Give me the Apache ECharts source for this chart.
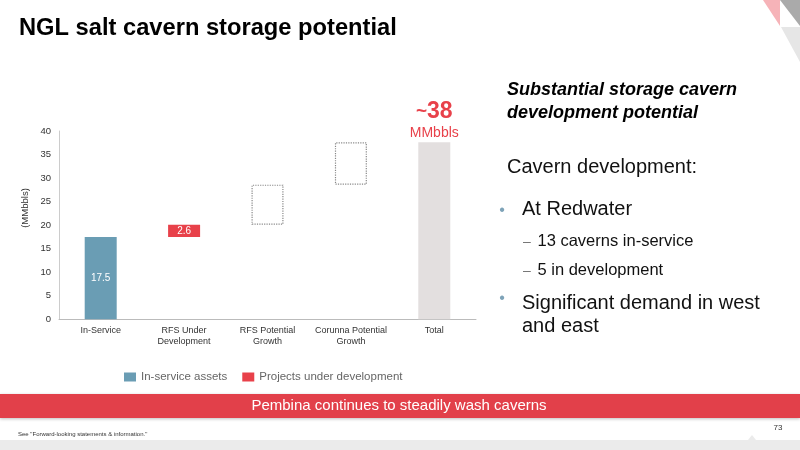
<!DOCTYPE html>
<html>
<head>
<meta charset="utf-8">
<script src="https://cdn.jsdelivr.net/npm/echarts@6/dist/echarts.min.js"></script>
<style>
html,body{margin:0;padding:0;background:#fff;}
#c{width:800px;height:450px;}
</style>
</head>
<body>
<div id="c"></div>
<script>
// ---- data ----
var categories = ['In-Service', 'RFS Under\nDevelopment', 'RFS Potential\nGrowth', 'Corunna Potential\nGrowth', 'Total'];
var baseValues = [0, 17.5, 20.1, 28.6, 0];
var inServiceValues = [17.5, '-', '-', '-', '-'];
var underDevValues = ['-', 2.6, '-', '-', '-'];
var potentialValues = ['-', '-', 8.5, 9.0, '-'];
var totalValues = ['-', '-', '-', '-', 37.6];
var yTicks = {min: 0, max: 40, interval: 5};
var legendNames = ['In-service assets', 'Projects under development'];

var FONT = '"Liberation Sans", Arial, Helvetica, sans-serif';
var BLUE = '#6a9db4';
var RED = '#e8414a';

function txt(text, x, y, size, opts) {
  opts = opts || {};
  return {
    type: 'text', silent: true,
    style: {
      text: text, x: x, y: y,
      fontSize: size, fontFamily: FONT,
      fontWeight: opts.weight || 'normal',
      fontStyle: opts.style || 'normal',
      fill: opts.color || '#111',
      align: opts.align || 'left', textAlign: opts.align || 'left',
      verticalAlign: 'middle', textVerticalAlign: 'middle'
    },
    x: 0, y: 0
  };
}

var chart = echarts.init(document.getElementById('c'), null, {renderer: 'canvas'});

var graphics = [
  // corner decorations
  {type: 'polygon', silent: true, shape: {points: [[763,0],[780,0],[780,26]]}, style: {fill: '#f6b3b8'}},
  {type: 'polygon', silent: true, shape: {points: [[780,0],[800,0],[800,26]]}, style: {fill: '#aaaaaa'}},
  {type: 'polygon', silent: true, shape: {points: [[781,27],[800,27],[800,62]]}, style: {fill: '#e6e6e6'}},
  // title
  txt('NGL salt cavern storage potential', 19, 28.5, 23.7, {weight: 'bold', color: '#000'}),
  // y axis name
  {type: 'text', silent: true, x: 25, y: 208, rotation: Math.PI / 2,
    style: {text: '(MMbbls)', x: 0, y: 0, fontSize: 9.5, fontFamily: FONT, fill: '#333',
      align: 'center', textAlign: 'center', verticalAlign: 'middle', textVerticalAlign: 'middle'}},
  // right side text
  txt('Substantial storage cavern', 507, 90.5, 18, {weight: 'bold', style: 'italic', color: '#000'}),
  txt('development potential', 507, 113, 18, {weight: 'bold', style: 'italic', color: '#000'}),
  txt('Cavern development:', 507, 167.5, 20, {color: '#111'}),
  txt('\u2022', 502, 211, 16, {color: '#7ea3b8', align: 'center'}),
  txt('At Redwater', 522, 209.5, 20, {color: '#111'}),
  txt('\u2013', 523, 242, 14, {color: '#777'}),
  txt('13 caverns in-service', 537.5, 241.8, 16.5, {color: '#111'}),
  txt('\u2013', 523, 271, 14, {color: '#777'}),
  txt('5 in development', 537.5, 270.8, 16.5, {color: '#111'}),
  txt('\u2022', 502, 298.5, 16, {color: '#7ea3b8', align: 'center'}),
  txt('Significant demand in west', 522, 303, 20, {color: '#111'}),
  txt('and east', 522, 326, 20, {color: '#111'}),
  // banner
  {type: 'rect', silent: true, shape: {x: 0, y: 394, width: 800, height: 24},
    style: {fill: '#e2404a', shadowBlur: 3, shadowColor: 'rgba(0,0,0,0.25)', shadowOffsetY: 1}},
  txt('Pembina continues to steadily wash caverns', 399, 406, 15, {color: '#fff', align: 'center'}),
  // footer
  {type: 'polygon', silent: true, shape: {points: [[0,440],[748,440],[752,435],[756,440],[800,440],[800,450],[0,450]]}, style: {fill: '#ebebeb'}},
  txt('See "Forward-looking statements & information."', 18, 434, 6, {color: '#333'}),
  txt('73', 778, 428, 8, {color: '#333', align: 'center'})
];

var option = {
  backgroundColor: '#fff',
  animation: false,
  textStyle: {fontFamily: FONT},
  graphic: graphics,
  legend: {
    data: legendNames,
    left: 119, top: 366,
    icon: 'rect', itemWidth: 12, itemHeight: 9, itemGap: 15,
    textStyle: {fontSize: 11.5, color: '#666', fontFamily: FONT}
  },
  grid: {left: 59, top: 131, width: 417, height: 188.3, containLabel: false},
  xAxis: {
    type: 'category', data: categories,
    axisLine: {show: true, lineStyle: {color: '#bbb', width: 1}},
    axisTick: {show: false},
    axisLabel: {fontSize: 9, color: '#333', lineHeight: 11, margin: 6, interval: 0, fontFamily: FONT}
  },
  yAxis: {
    type: 'value', min: yTicks.min, max: yTicks.max, interval: yTicks.interval,
    axisLine: {show: true, lineStyle: {color: '#ccc', width: 1}},
    axisTick: {show: false},
    splitLine: {show: false},
    axisLabel: {fontSize: 9.5, color: '#333', margin: 8, fontFamily: FONT}
  },
  series: [
    {name: 'base', type: 'bar', stack: 's', data: baseValues, barWidth: 32,
      itemStyle: {color: 'transparent'}, silent: true, emphasis: {disabled: true}},
    {name: legendNames[0], type: 'bar', stack: 's', data: inServiceValues, barWidth: 32,
      itemStyle: {color: BLUE},
      label: {show: true, position: 'inside', color: '#fff', fontSize: 10, fontFamily: FONT}},
    {name: legendNames[1], type: 'bar', stack: 's', data: underDevValues, barWidth: 32,
      itemStyle: {color: RED},
      label: {show: true, position: 'inside', color: '#fff', fontSize: 10, fontFamily: FONT}},
    {name: 'potential', type: 'bar', stack: 's', data: potentialValues, barWidth: 32,
      itemStyle: {color: 'rgba(255,255,255,0)', borderColor: '#888', borderWidth: 1.2, borderType: 'dotted'}},
    {name: 'total', type: 'bar', stack: 's', data: totalValues, barWidth: 32,
      itemStyle: {color: '#e3dfdf'},
      label: {
        show: true, position: 'top', distance: 0,
        formatter: function (p) { return '{a|~}{b|' + Math.round(p.value) + '}\n{c|MMbbls}'; },
        rich: {
          a: {fontSize: 19, fontWeight: 'bold', color: RED, fontFamily: FONT, lineHeight: 26},
          b: {fontSize: 23, fontWeight: 'bold', color: RED, fontFamily: FONT, lineHeight: 26},
          c: {fontSize: 14, color: RED, fontFamily: FONT, lineHeight: 18, align: 'center'}
        }
      }}
  ]
};
chart.setOption(option);
</script>
</body>
</html>
